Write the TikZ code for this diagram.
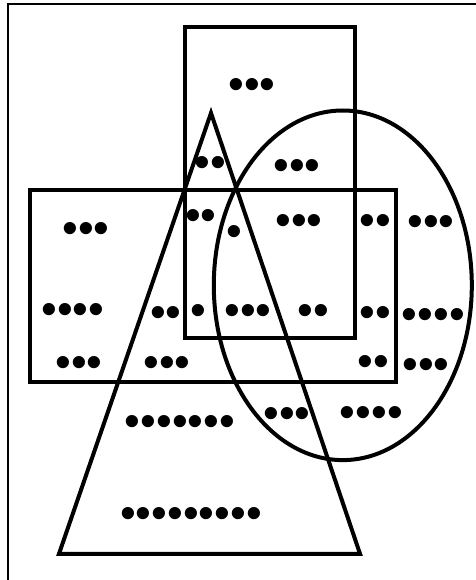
\documentclass[tikz,border=0pt]{standalone}
\usepackage{fontspec}
\setmainfont{Liberation Sans}
\begin{document}
\begin{tikzpicture}[x=1pt,y=-1pt,
  shapeline/.style={line width=4pt, line join=miter},
  framel/.style={line width=1.7pt},
  dots/.style={inner sep=0pt, anchor=base, font=\fontsize{45}{45}\selectfont, yshift=-15pt}]
\useasboundingbox (0,0) rectangle (475,580);
% outer frame (cut by the picture edge)
\draw[framel] (8.3,585) -- (8.3,4.3) -- (480,4.3);
% shapes
\draw[shapeline] (185.3,27) rectangle (354.5,338.3);
\draw[shapeline] (29.5,189.5) rectangle (395.5,381.7);
\draw[shapeline] (211,113) -- (59,553.8) -- (360,553.8) -- cycle;
\draw[shapeline] (342.8,285.3) ellipse [x radius=129, y radius=174.8];
% dot groups
\node[dots] (d1)  at (252,85)    {•••};
\node[dots] (d2)  at (210.5,163) {••};
\node[dots] (d3)  at (297,165.7) {•••};
\node[dots] (d4)  at (86,228.3)  {•••};
\node[dots] (d5)  at (201,215)   {••};
\node[dots] (d6)  at (234,231.7) {•};
\node[dots] (d7)  at (299,220)   {•••};
\node[dots] (d8)  at (375,220)   {••};
\node[dots] (d9)  at (431,221.7) {•••};
\node[dots] (d10) at (73,309)    {••••};
\node[dots] (d11) at (166,312)   {••};
\node[dots] (d12) at (198,310)   {•};
\node[dots] (d13) at (248,310.7) {•••};
\node[dots] (d14) at (313,310)   {••};
\node[dots] (d15) at (375,312)   {••};
\node[dots] (d16) at (433.5,314) {••••};
\node[dots] (d17) at (79,362.7)  {•••};
\node[dots] (d18) at (167,362.7) {•••};
\node[dots] (d19) at (373.5,361.7) {••};
\node[dots] (d20) at (426,364)   {•••};
\node[dots] (d21) at (287,413.3) {•••};
\node[dots] (d22) at (371.5,412.3) {••••};
\node[dots] (d23) at (180,421.5) {•••••••};
\node[dots] (d24) at (191,513.3) {•••••••••};
\end{tikzpicture}
\end{document}
